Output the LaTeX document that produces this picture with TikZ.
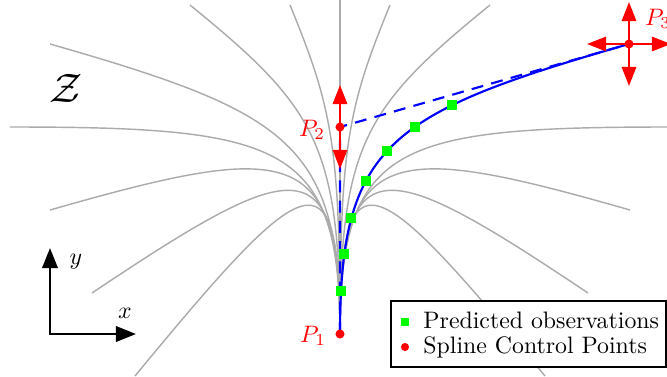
\documentclass[tikz,border=0pt]{standalone}
\usetikzlibrary{arrows.meta}
\begin{document}
\begin{tikzpicture}[x=0.42pt,y=-0.42pt,
  fan/.style={black!33,line width=0.6pt},
  spline/.style={blue,line width=0.9pt},
  ctrlpoly/.style={blue,line width=0.9pt,dash pattern=on 5pt off 3.5pt},
  redarrow/.style={red,line width=0.9pt,-{Triangle[length=8pt,width=6pt]}},
  cpdot/.style={circle,fill=red,inner sep=0pt,minimum size=3.8pt},
  obs/.style={rectangle,fill=green,inner sep=0pt,minimum size=4.2pt},
  axisarrow/.style={line width=1.1pt,{Triangle[length=8.5pt,width=6.5pt]}-{Triangle[length=8.5pt,width=6.5pt]}},
  lbl/.style={red,inner sep=0pt},
]
\useasboundingbox (0,0) rectangle (667,376);
\clip (0,0) rectangle (667,376);

% control points
\coordinate (P1) at (340,334);
\coordinate (P2) at (340,127);
\coordinate (P3) at (629,44);
\coordinate (C1) at (340,144);
\coordinate (P3c) at (388.7,113);

% fan of gray curves
\coordinate (V) at (340,0);
\coordinate (L1) at (50,44);   \coordinate (L1c) at (290.7,112.9);
\coordinate (L2) at (10,127);  \coordinate (L2c) at (283.9,127);
\coordinate (L3) at (50,210);  \coordinate (L3c) at (290.7,141.1);
\coordinate (L4) at (92,293);  \coordinate (L4c) at (297.8,155.2);
\coordinate (L5) at (135,376); \coordinate (L5c) at (305.2,169.3);
\coordinate (L6) at (190,5);   \coordinate (L6c) at (314.5,106.3);
\coordinate (L7) at (290,5);   \coordinate (L7c) at (331.5,106.3);
\coordinate (R2) at (670,127); \coordinate (R2c) at (396.1,127);
\coordinate (R3) at (630,210); \coordinate (R3c) at (389.3,141.1);
\coordinate (R4) at (588,293); \coordinate (R4c) at (382.2,155.2);
\coordinate (R5) at (545,376); \coordinate (R5c) at (374.8,169.3);
\coordinate (R6) at (490,5);   \coordinate (R6c) at (365.5,106.3);
\coordinate (R7) at (390,5);   \coordinate (R7c) at (348.5,106.3);

\draw[fan] (P1) -- (V);
\draw[fan] (P1) .. controls (C1) and (L1c) .. (L1);
\draw[fan] (P1) .. controls (C1) and (L2c) .. (L2);
\draw[fan] (P1) .. controls (C1) and (L3c) .. (L3);
\draw[fan] (P1) .. controls (C1) and (L4c) .. (L4);
\draw[fan] (P1) .. controls (C1) and (L5c) .. (L5);
\draw[fan] (P1) .. controls (C1) and (L6c) .. (L6);
\draw[fan] (P1) .. controls (C1) and (L7c) .. (L7);
\draw[fan] (P1) .. controls (C1) and (R2c) .. (R2);
\draw[fan] (P1) .. controls (C1) and (R3c) .. (R3);
\draw[fan] (P1) .. controls (C1) and (R4c) .. (R4);
\draw[fan] (P1) .. controls (C1) and (R5c) .. (R5);
\draw[fan] (P1) .. controls (C1) and (R6c) .. (R6);
\draw[fan] (P1) .. controls (C1) and (R7c) .. (R7);

% control polygon
\draw[ctrlpoly] (P1) -- (P2) -- (P3);

% spline with observations
\draw[spline] (P1) .. controls (C1) and (P3c) .. (P3)
  node[obs,pos=0.08] (o1) {}
  node[obs,pos=0.16] (o2) {}
  node[obs,pos=0.25] (o3) {}
  node[obs,pos=0.36] (o4) {}
  node[obs,pos=0.47] (o5) {}
  node[obs,pos=0.575] (o6) {}
  node[obs,pos=0.68] (o7) {};

% red arrows
\coordinate (P2u) at (340,85);
\coordinate (P2d) at (340,169);
\coordinate (P3u) at (629,2);
\coordinate (P3d) at (629,86);
\coordinate (P3l) at (587,44);
\coordinate (P3r) at (671,44);
\draw[redarrow] (P2) -- (P2u);
\draw[redarrow] (P2) -- (P2d);
\draw[redarrow] (P3) -- (P3u);
\draw[redarrow] (P3) -- (P3d);
\draw[redarrow] (P3) -- (P3l);
\draw[redarrow] (P3) -- (P3r);

\node[cpdot] (d1) at (P1) {};
\node[cpdot] (d2) at (P2) {};
\node[cpdot] (d3) at (P3) {};

\node[lbl] (l1) at (313,336) {$P_1$};
\node[lbl] (l2) at (312,130) {$P_2$};
\node[lbl] (l3) at (658,19) {$P_3$};

\node (Z) at (66,88) {\LARGE$\mathcal{Z}$};

% legend
\node[draw=black,fill=white,line width=0.5pt,minimum width=115.5pt,minimum height=27.7pt,inner sep=0pt] (leg) at (528.5,334) {};
\node[obs,minimum size=3.7pt] (lo) at (405,322) {};
\node[anchor=base west,inner sep=0pt] (lt1) at (423,328) {Predicted observations};
\node[cpdot,minimum size=3.4pt] (lc) at (405,347) {};
\node[anchor=base west,inner sep=0pt] (lt2) at (423,353) {Spline Control Points};

% axes
\coordinate (O) at (50,334);
\coordinate (Ay) at (50,248);
\coordinate (Ax) at (136,334);
\draw[axisarrow] (Ay) -- (O) -- (Ax);
\node (ly) at (76,262) {$y$};
\node (lx) at (125,313) {$x$};
\end{tikzpicture}
\end{document}
